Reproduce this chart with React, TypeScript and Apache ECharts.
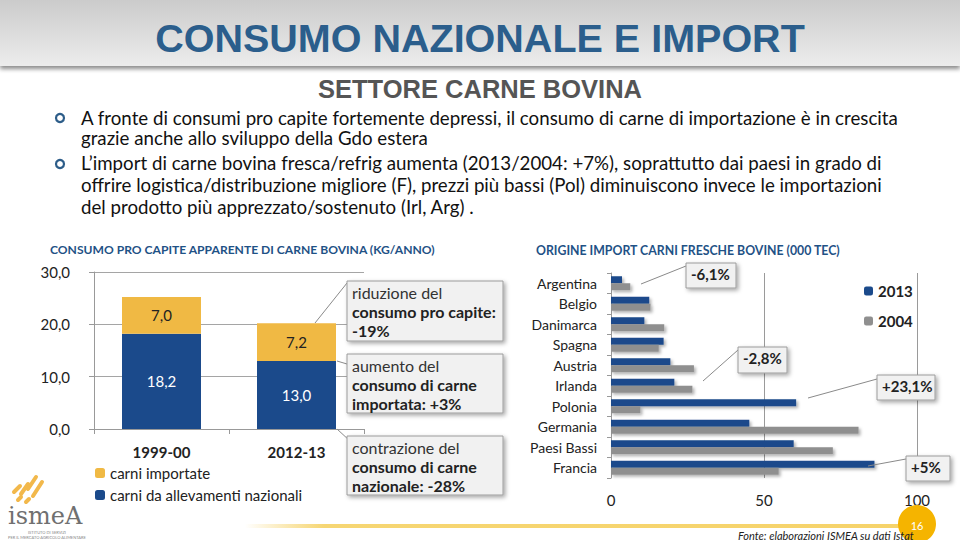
import React, { useEffect, useRef } from "react";
import * as echarts from "echarts";

const leftCategories = ["1999-00", "2012-13"];
const nazionali = [18.2, 13.0];
const importate = [7.0, 7.2];
const leftTicks = [0, 10, 20, 30];

const countries = ["Argentina", "Belgio", "Danimarca", "Spagna", "Austria", "Irlanda", "Polonia", "Germania", "Paesi Bassi", "Francia"];
const import2013 = [3.6, 12.5, 10.9, 17.2, 19.4, 20.7, 60.5, 45.2, 59.7, 86.1];
const import2004 = [6.3, 12.9, 17.4, 15.6, 27.1, 26.6, 9.6, 80.9, 72.5, 54.8];

const bulletLines = [
  "A fronte di consumi pro capite fortemente depressi, il consumo di carne di importazione è in crescita",
  "grazie anche allo sviluppo della Gdo estera",
  "L\u2019import di carne bovina fresca/refrig aumenta (2013/2004: +7%), soprattutto dai paesi in grado di",
  "offrire logistica/distribuzione migliore (F), prezzi più bassi (Pol) diminuiscono invece le importazioni",
  "del prodotto più apprezzato/sostenuto (Irl, Arg) .",
];

const BLUE = "#1b4a8b";
const GOLD = "#f0b944";
const GREY = "#8f8f8f";
const FONT = "Lato";

const fmt = (v: number) => v.toFixed(1).replace(".", ",");

function callout(x: number, y: number, w: number, h: number, text: string, rich = true) {
  return {
    type: "group",
    z: 20,
    children: [
      {
        type: "rect",
        shape: { x, y, width: w, height: h },
        style: { fill: "#f1f1f1", stroke: "#9c9c9c", lineWidth: 1, shadowBlur: 4, shadowOffsetX: 2, shadowOffsetY: 2, shadowColor: "rgba(0,0,0,0.35)" },
        z: 20,
      },
      {
        type: "text",
        x: x + 5,
        y: y + (rich ? 2 : 3),
        z: 21,
        style: rich
          ? {
              text,
              rich: {
                n: { fontFamily: FONT, fontSize: 16, fill: "#333", lineHeight: 19 },
                b: { fontFamily: FONT, fontSize: 16, fontWeight: "bold", fill: "#222", lineHeight: 19 },
              },
            }
          : { text, fontFamily: FONT, fontSize: 15, fill: "#222", fontWeight: "bold" },
      },
    ],
  };
}

function leader(x1: number, y1: number, x2: number, y2: number) {
  return { type: "line", z: 19, shape: { x1, y1, x2, y2 }, style: { stroke: "#8a8a8a", lineWidth: 1 } };
}

export default function App() {
  const ref = useRef<HTMLDivElement>(null);
  useEffect(() => {
    if (!ref.current) return;
    const chart = echarts.init(ref.current, undefined, { renderer: "svg" });

    const graphics: any[] = [
      {
        type: "rect",
        z: 0,
        shape: { x: 0, y: 0, width: 960, height: 66 },
        style: {
          fill: new echarts.graphic.LinearGradient(0, 0, 0, 1, [
            { offset: 0, color: "#cbcbcb" },
            { offset: 1, color: "#ececec" },
          ]),
          shadowBlur: 4,
          shadowOffsetY: 3,
          shadowColor: "rgba(0,0,0,0.45)",
        },
      },
      {
        type: "text",
        z: 2,
        x: 480,
        y: 38,
        style: {
          text: "CONSUMO NAZIONALE E IMPORT",
          fontFamily: "Liberation Sans, Arial",
          fontWeight: "bold",
          fontSize: 39.5,
          fill: "#2b5e8c",
          textAlign: "center",
          textVerticalAlign: "middle",
        },
      },
      {
        type: "text",
        x: 480,
        y: 89,
        style: {
          text: "SETTORE CARNE BOVINA",
          fontFamily: "Liberation Sans, Arial",
          fontWeight: "bold",
          fontSize: 25.5,
          fill: "#555",
          textAlign: "center",
          textVerticalAlign: "middle",
        },
      },
      { type: "circle", shape: { cx: 60, cy: 118, r: 4 }, style: { fill: "none", stroke: "#2d5d89", lineWidth: 2.2 } },
      { type: "circle", shape: { cx: 60, cy: 164, r: 4 }, style: { fill: "none", stroke: "#2d5d89", lineWidth: 2.2 } },
      ...bulletLines.map((t, i) => ({
        type: "text",
        x: 81,
        y: [118, 138, 163, 185, 207][i],
        style: { text: t, fontFamily: FONT, fontSize: 18.7, fill: "#111", textVerticalAlign: "middle" },
      })),
      {
        type: "text",
        x: 50,
        y: 249,
        style: {
          text: "CONSUMO PRO CAPITE APPARENTE DI CARNE BOVINA (KG/ANNO)",
          fontFamily: FONT,
          fontWeight: "bold",
          fontSize: 12.1,
          fill: "#1f5286",
          textVerticalAlign: "middle",
        },
      },
      {
        type: "text",
        x: 536,
        y: 250,
        style: {
          text: "ORIGINE IMPORT CARNI FRESCHE BOVINE (000 TEC)",
          fontFamily: FONT,
          fontWeight: "bold",
          fontSize: 12.3,
          fill: "#1f5286",
          textVerticalAlign: "middle",
        },
      },
      // left callouts
      leader(347, 283, 315, 323),
      leader(337, 361, 347, 364),
      leader(337, 429, 350, 441),
      callout(347, 281, 156, 60, "{n|riduzione del}\n{b|consumo pro capite:}\n{b|-19%}"),
      callout(347, 354, 156, 59, "{n|aumento del}\n{b|consumo di carne}\n{b|importata: +3%}"),
      callout(347, 436, 156, 59, "{n|contrazione del}\n{b|consumo di carne}\n{b|nazionale: -28%}"),
      // right callouts
      leader(641, 284, 686, 266),
      leader(703, 381, 738, 350),
      leader(808, 398, 877, 379),
      leader(868, 466, 906, 459),
      callout(686, 263, 50, 25, "-6,1%", false),
      callout(738, 347, 49, 26, "-2,8%", false),
      callout(877, 375, 58, 25, "+23,1%", false),
      callout(906, 456, 44, 25, "+5%", false),
      // footer
      {
        type: "rect",
        shape: { x: 245, y: 524, width: 660, height: 4 },
        style: {
          fill: new echarts.graphic.LinearGradient(0, 0, 1, 0, [
            { offset: 0, color: "rgba(246,211,106,0)" },
            { offset: 0.12, color: "#f6d673" },
            { offset: 1, color: "#f6d36a" },
          ]),
        },
      },
      { type: "circle", z: 5, shape: { cx: 917, cy: 524, r: 19 }, style: { fill: "#f5b400" } },
      {
        type: "text",
        z: 6,
        x: 917,
        y: 525,
        style: { text: "16", fontFamily: FONT, fontSize: 11, fill: "#fff", textAlign: "center", textVerticalAlign: "middle" },
      },
      {
        type: "text",
        z: 6,
        x: 738,
        y: 535,
        style: { text: "Fonte: elaborazioni ISMEA su dati Istat", fontFamily: FONT, fontStyle: "italic", fontSize: 11, fill: "#222", textVerticalAlign: "middle" },
      },
      // logo
      ...[
        [14, 492, 20, 486],
        [21, 494, 28, 484],
        [28, 489, 36, 477],
        [33, 496, 42, 482],
        [18, 500, 21, 497],
        [26, 502, 29, 499],
      ].map(([x1, y1, x2, y2]) => ({
        type: "line",
        shape: { x1, y1, x2, y2 },
        style: { stroke: "#f2b84b", lineWidth: 4, lineCap: "round" },
      })),
      {
        type: "text",
        x: 8,
        y: 516,
        style: { text: "ismeA", fontFamily: "DejaVu Serif", fontSize: 24, fill: "#707070", textVerticalAlign: "middle", letterSpacing: -1 },
      },
      {
        type: "text",
        x: 28,
        y: 530,
        style: { text: "ISTITUTO DI SERVIZI", fontFamily: FONT, fontSize: 4, fill: "#888" },
      },
      {
        type: "text",
        x: 8,
        y: 535,
        style: { text: "PER IL MERCATO AGRICOLO ALIMENTARE", fontFamily: FONT, fontSize: 4, fill: "#888" },
      },
    ];

    chart.setOption({
      animation: false,
      textStyle: { fontFamily: FONT },
      legend: [
        {
          orient: "vertical",
          left: 95,
          top: 465,
          padding: 0,
          itemWidth: 10,
          itemHeight: 10,
          itemGap: 6,
          data: ["carni importate", "carni da allevamenti nazionali"],
          textStyle: { fontSize: 15, color: "#222", fontFamily: FONT, lineHeight: 16 },
        },
        {
          orient: "vertical",
          left: 864,
          top: 283,
          padding: 0,
          itemWidth: 9,
          itemHeight: 9,
          itemGap: 14,
          data: ["2013", "2004"],
          textStyle: { fontSize: 15, color: "#222", fontWeight: "bold", fontFamily: FONT, lineHeight: 16 },
        },
      ],
      grid: [
        { left: 94, top: 272, width: 270, height: 157 },
        { left: 611, top: 273, width: 306, height: 205 },
      ],
      xAxis: [
        {
          type: "category",
          gridIndex: 0,
          data: leftCategories,
          axisLine: { lineStyle: { color: "#999" } },
          axisTick: { show: true, length: 5, lineStyle: { color: "#999" } },
          axisLabel: { fontSize: 15, fontWeight: "bold", color: "#222", margin: 15 },
        },
        {
          type: "value",
          gridIndex: 1,
          min: 0,
          max: 100,
          interval: 50,
          axisLine: { show: false },
          axisTick: { show: false },
          splitLine: { show: true, lineStyle: { color: "#9a9a9a" } },
          axisLabel: { fontSize: 15, color: "#222", margin: 14 },
        },
      ],
      yAxis: [
        {
          type: "value",
          gridIndex: 0,
          min: leftTicks[0],
          max: leftTicks[leftTicks.length - 1],
          interval: 10,
          axisLine: { show: true, lineStyle: { color: "#999" } },
          axisTick: { show: true, length: 5, lineStyle: { color: "#999" } },
          splitLine: { show: true, lineStyle: { color: "#a5a5a5" } },
          axisLabel: { fontSize: 15, color: "#222", margin: 24, formatter: (v: number) => fmt(v) },
        },
        {
          type: "category",
          gridIndex: 1,
          inverse: true,
          data: countries,
          axisLine: { show: true, lineStyle: { color: "#999" } },
          axisTick: { show: true, length: 4, lineStyle: { color: "#999" } },
          axisLabel: { fontSize: 14, color: "#222", margin: 14 },
        },
      ],
      series: [
        {
          name: "carni da allevamenti nazionali",
          type: "bar",
          xAxisIndex: 0,
          yAxisIndex: 0,
          stack: "tot",
          barWidth: 79,
          data: nazionali,
          itemStyle: { color: BLUE },
          label: { show: true, position: "inside", color: "#fff", fontSize: 15, formatter: (p: any) => fmt(p.value) },
        },
        {
          name: "carni importate",
          type: "bar",
          xAxisIndex: 0,
          yAxisIndex: 0,
          stack: "tot",
          barWidth: 79,
          data: importate,
          itemStyle: { color: GOLD },
          label: { show: true, position: "inside", color: "#222", fontSize: 15, formatter: (p: any) => fmt(p.value) },
        },
        {
          name: "2013",
          type: "bar",
          xAxisIndex: 1,
          yAxisIndex: 1,
          barWidth: 7,
          barGap: "0%",
          data: import2013,
          itemStyle: { color: BLUE, shadowBlur: 3, shadowOffsetX: 2, shadowOffsetY: 2, shadowColor: "rgba(0,0,0,0.3)" },
        },
        {
          name: "2004",
          type: "bar",
          xAxisIndex: 1,
          yAxisIndex: 1,
          barWidth: 7,
          barGap: "0%",
          data: import2004,
          itemStyle: { color: GREY, shadowBlur: 3, shadowOffsetX: 2, shadowOffsetY: 2, shadowColor: "rgba(0,0,0,0.3)" },
        },
      ],
      graphic: graphics,
    });
    return () => chart.dispose();
  }, []);
  return <div ref={ref} style={{ position: "fixed", left: 0, top: 0, width: 960, height: 540, background: "#fff" }} />;
}
